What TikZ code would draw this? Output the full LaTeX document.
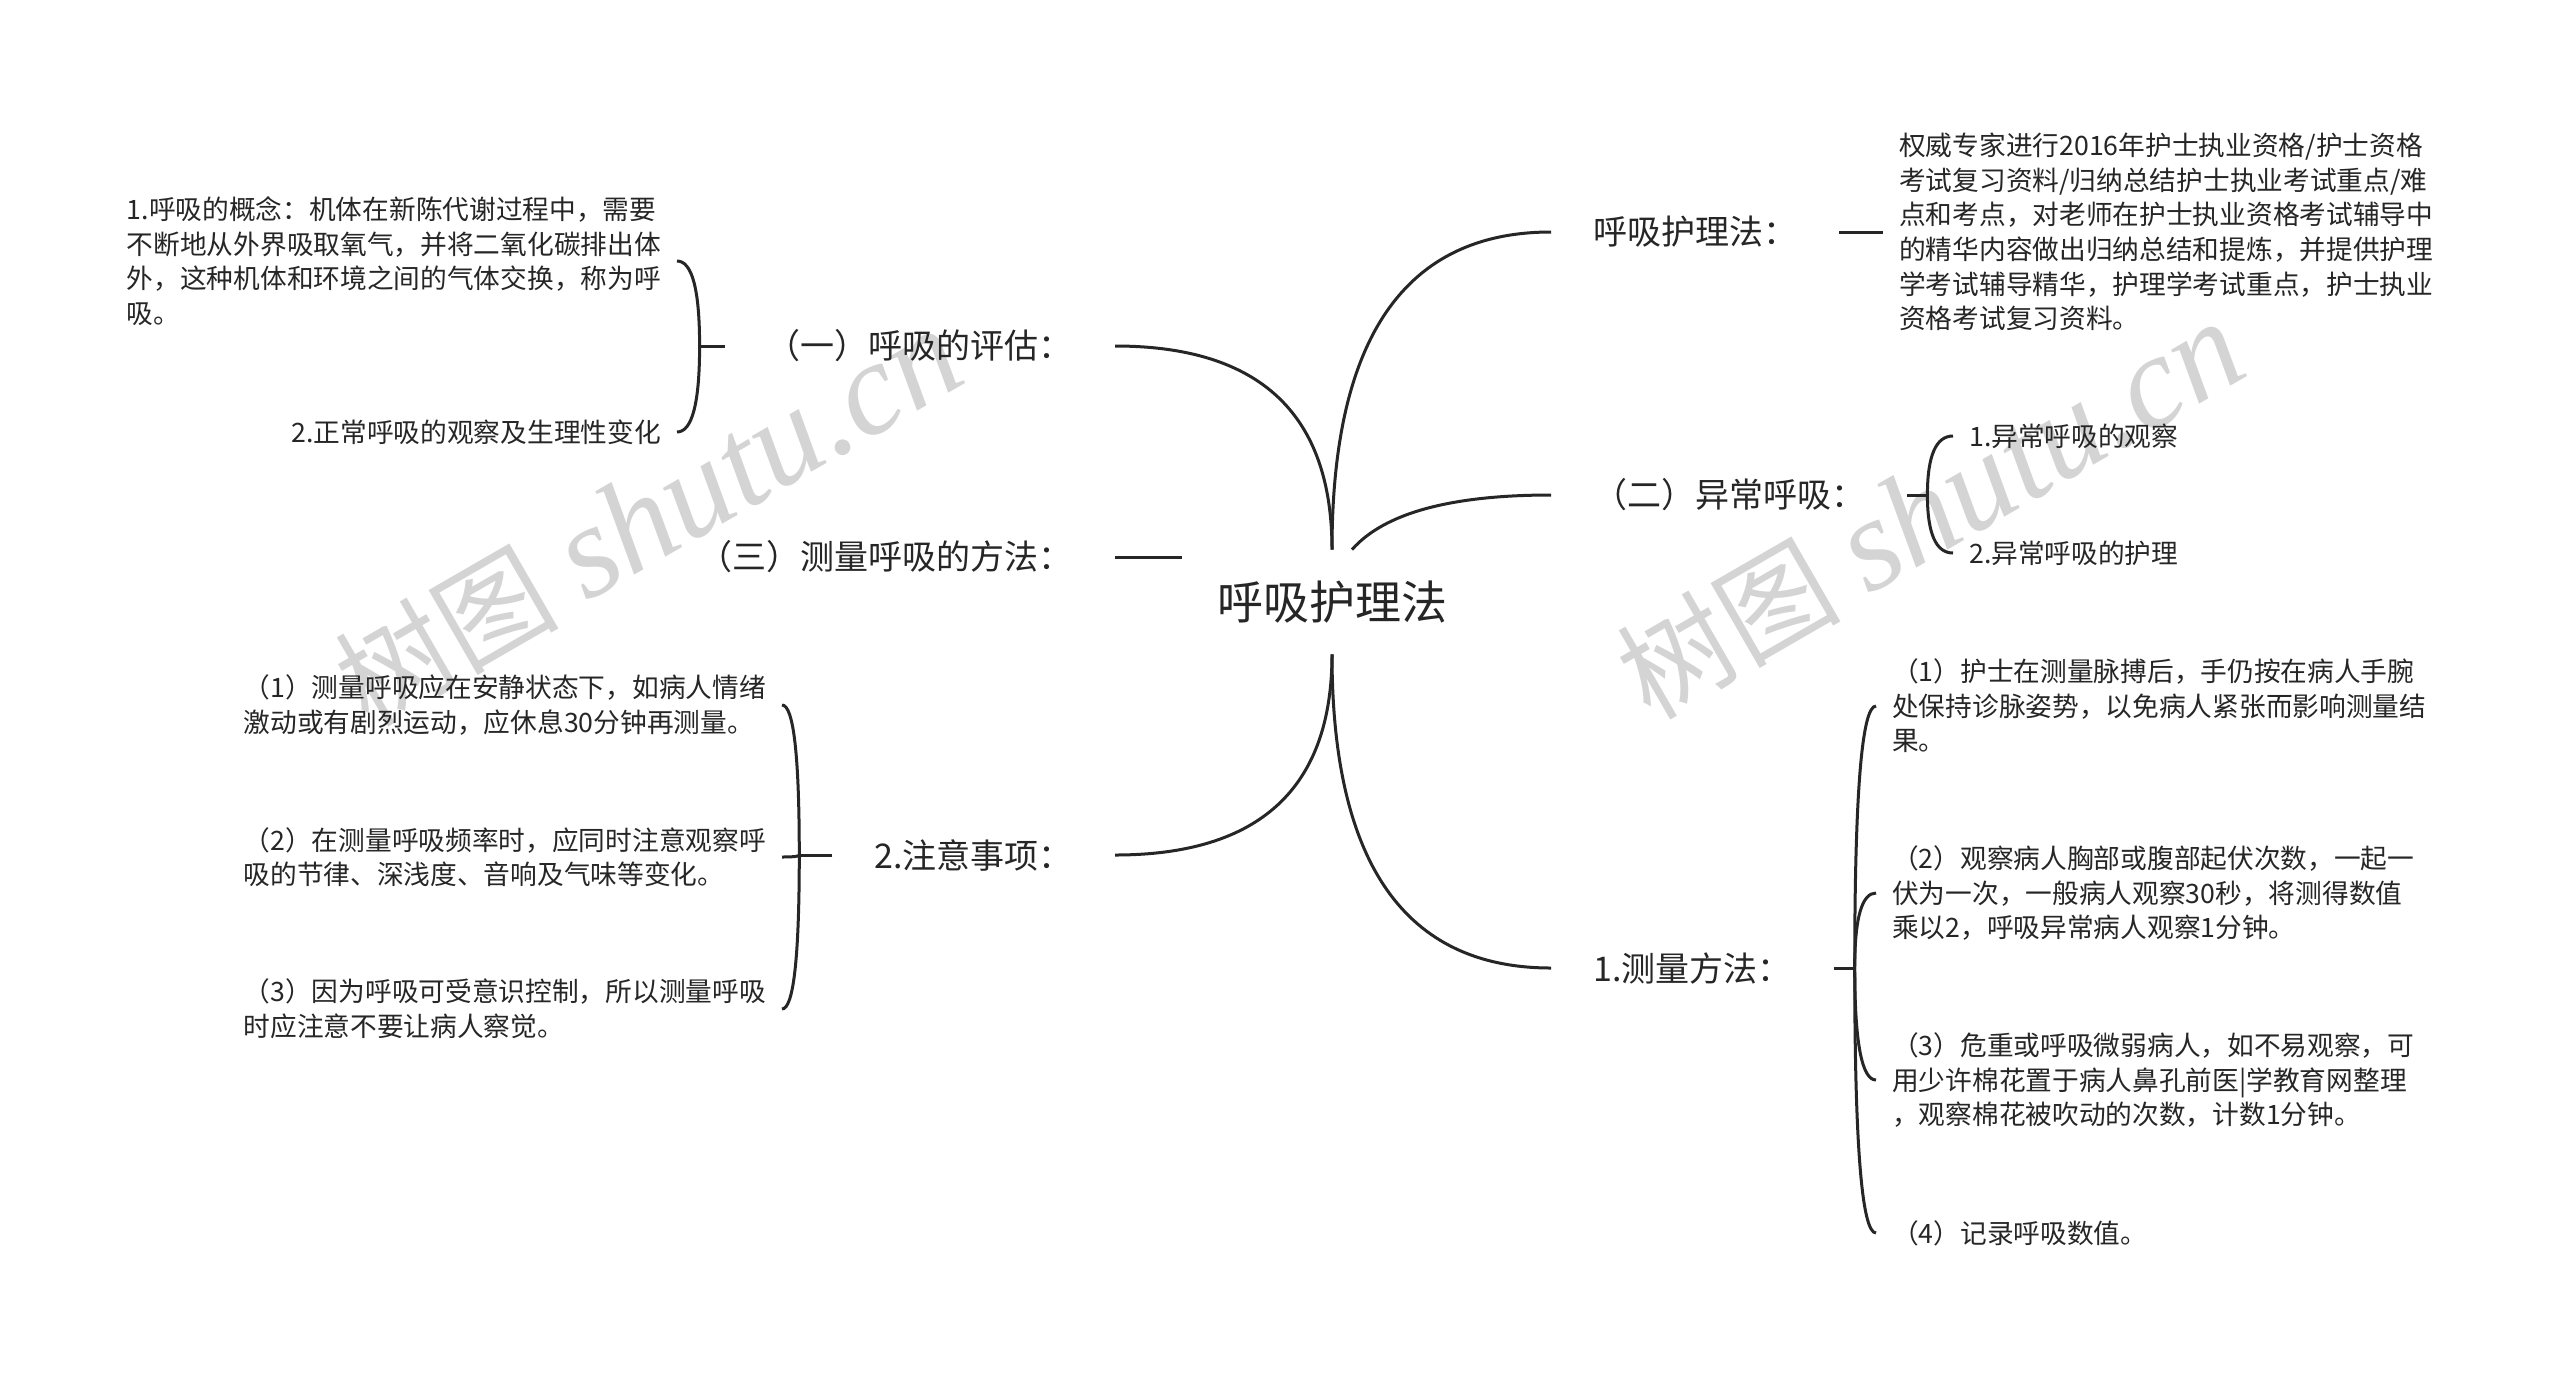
\documentclass[tikz,border=0pt]{standalone}
\usepackage{fontspec}
\setmainfont{Noto Sans CJK SC}
\newfontfamily\wmcjk{Noto Sans CJK SC}
\newfontfamily\wmlat{Liberation Serif}
\usetikzlibrary{calc}
\newcommand\qlink[3]{\draw[link] (#1) .. controls ($(#1)!0.6667!(#3)$) and ($(#2)!0.6667!(#3)$) .. (#2);}
\newcommand\wmtext{{\wmcjk\fontsize{112}{112}\selectfont 树图}\hspace{28pt}{\wmlat\itshape\fontsize{132}{132}\selectfont shutu.cn}}
\begin{document}
\begin{tikzpicture}[x=1pt,y=-1pt,
  link/.style={draw=black!85,line width=3pt},
  rootnode/.style={font=\fontsize{46}{55}\selectfont,text=black!85,inner xsep=35pt,inner ysep=31pt},
  topic/.style={font=\fontsize{34}{41}\selectfont,text=black!85,inner xsep=42pt,inner ysep=4pt},
  leaf/.style={font=\fontsize{26.7}{34.6}\selectfont,text=black!85,align=left,inner xsep=16pt,inner ysep=2pt},
  wm/.style={text=black!17,rotate=30,inner sep=0pt}
]
\useasboundingbox (0,0) rectangle (2560,1377);
\fill[white] (0,0) rectangle (2560,1377);
% watermarks
\node[wm] (w1) at (648,518) {\wmtext};
\node[wm] (w2) at (1930,511) {\wmtext};

% root
\node[rootnode] (root) at (1332,602) {呼吸护理法};

% main topics
\node[topic,anchor=west] (r1) at (1551,232) {呼吸护理法：};
\node[topic,anchor=west] (r2) at (1551,495) {（二）异常呼吸：};
\node[topic,anchor=west] (r3) at (1551,968) {1.测量方法：};
\node[topic,anchor=east] (l1) at (1115,346) {（一）呼吸的评估：};
\node[topic,anchor=east] (l2) at (1115,557) {（三）测量呼吸的方法：};
\node[topic,anchor=east] (l3) at (1115,855) {2.注意事项：};

% root connectors
\coordinate (k1) at (root.north |- r1.west);
\qlink{root.north}{r1.west}{k1}
\coordinate (s2) at ($(root.north)+(20,0)$);
\coordinate (k2) at ($(s2 |- r2.west)+(48,0)$);
\qlink{s2}{r2.west}{k2}
\coordinate (k3) at (root.north |- l1.east);
\qlink{root.north}{l1.east}{k3}
\draw[link] (l2.east) -- (l2.east -| root.west);
\coordinate (k4) at (root.south |- l3.east);
\qlink{root.south}{l3.east}{k4}
\coordinate (k5) at (root.south |- r3.west);
\qlink{root.south}{r3.west}{k5}

% leaves
\node[leaf,anchor=west] (q1) at (1883,232) {权威专家进行2016年护士执业资格/护士资格\\考试复习资料/归纳总结护士执业考试重点/难\\点和考点，对老师在护士执业资格考试辅导中\\的精华内容做出归纳总结和提炼，并提供护理\\学考试辅导精华，护理学考试重点，护士执业\\资格考试复习资料。};
\node[leaf,anchor=west] (a1) at (1953,436) {1.异常呼吸的观察};
\node[leaf,anchor=west] (a2) at (1953,553) {2.异常呼吸的护理};
\node[leaf,anchor=east] (e1) at (677,261) {1.呼吸的概念：机体在新陈代谢过程中，需要\\不断地从外界吸取氧气，并将二氧化碳排出体\\外，这种机体和环境之间的气体交换，称为呼\\吸。};
\node[leaf,anchor=east] (e2) at (677,432) {2.正常呼吸的观察及生理性变化};
\node[leaf,anchor=east] (c1) at (782,705) {（1）测量呼吸应在安静状态下，如病人情绪\\激动或有剧烈运动，应休息30分钟再测量。};
\node[leaf,anchor=east] (c2) at (782,857) {（2）在测量呼吸频率时，应同时注意观察呼\\吸的节律、深浅度、音响及气味等变化。};
\node[leaf,anchor=east] (c3) at (782,1009) {（3）因为呼吸可受意识控制，所以测量呼吸\\时应注意不要让病人察觉。};
\node[leaf,anchor=west] (d1) at (1876,706) {（1）护士在测量脉搏后，手仍按在病人手腕\\处保持诊脉姿势，以免病人紧张而影响测量结\\果。};
\node[leaf,anchor=west] (d2) at (1876,893) {（2）观察病人胸部或腹部起伏次数，一起一\\伏为一次，一般病人观察30秒，将测得数值\\乘以2，呼吸异常病人观察1分钟。};
\node[leaf,anchor=west] (d3) at (1876,1080) {（3）危重或呼吸微弱病人，如不易观察，可\\用少许棉花置于病人鼻孔前医|学教育网整理\\，观察棉花被吹动的次数，计数1分钟。};
\node[leaf,anchor=west] (d4) at (1876,1233) {（4）记录呼吸数值。};

% r1 -> paragraph
\draw[link] (r1.east) -- (q1.west);

% r2 bracket
\coordinate (brA) at ($(r2.east)+(20,0)$);
\draw[link] (r2.east) -- (brA);
\foreach \n in {a1,a2}{
  \coordinate (kk) at (brA |- \n.west);
  \qlink{brA}{\n.west}{kk}
}

% l1 bracket
\coordinate (brB) at ($(l1.west)+(-25,0)$);
\draw[link] (l1.west) -- (brB);
\foreach \n in {e1,e2}{
  \coordinate (kk) at (brB |- \n.east);
  \qlink{brB}{\n.east}{kk}
}

% l3 bracket
\coordinate (brC) at ($(l3.west)+(-33,0)$);
\draw[link] (l3.west) -- (brC);
\foreach \n in {c1,c2,c3}{
  \coordinate (kk) at (brC |- \n.east);
  \qlink{brC}{\n.east}{kk}
}

% r3 bracket
\coordinate (brD) at ($(r3.east)+(21,0)$);
\draw[link] (r3.east) -- (brD);
\foreach \n in {d1,d2,d3,d4}{
  \coordinate (kk) at (brD |- \n.west);
  \qlink{brD}{\n.west}{kk}
}
\end{tikzpicture}
\end{document}
